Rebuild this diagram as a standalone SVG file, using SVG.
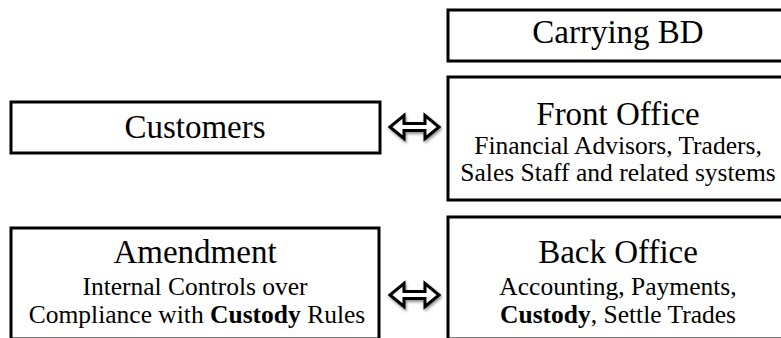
<svg xmlns="http://www.w3.org/2000/svg" width="781" height="338" viewBox="0 0 781 338">
<defs>
<style>
.box{fill:#fff;stroke:#000;stroke-width:3}
.t{font-family:"Liberation Serif","Times New Roman",serif;fill:#000;text-anchor:middle}
.h{font-size:33px}
.s{font-size:25.5px}
.b{font-weight:bold}
.arr{fill:#fff;stroke:#000;stroke-width:3;stroke-linejoin:miter;filter:url(#sh)}
</style>
<filter id="sh" x="-30%" y="-50%" width="160%" height="200%">
<feGaussianBlur in="SourceAlpha" stdDeviation="1.5"/>
<feOffset dx="1" dy="2" result="o"/>
<feComponentTransfer><feFuncA type="linear" slope="0.45"/></feComponentTransfer>
<feMerge><feMergeNode/><feMergeNode in="SourceGraphic"/></feMerge>
</filter>
<path id="dbl" d="M0,0 L14,-11.5 L14,-3.5 L35,-3.5 L35,-11.5 L49,0 L35,11.5 L35,3.5 L14,3.5 L14,11.5 Z"/>
</defs>
<rect width="781" height="338" fill="#fff"/>
<g id="carrying-bd">
<rect class="box" x="448" y="10" width="340" height="51"/>
<text class="t h" x="618" y="43">Carrying BD</text>
</g>
<g id="customers">
<rect class="box" x="11" y="102" width="369" height="51"/>
<text class="t h" x="195" y="138">Customers</text>
</g>
<g id="front-office">
<rect class="box" x="448" y="77" width="340" height="123"/>
<text class="t h" x="618" y="125">Front Office</text>
<text class="t s" x="618" y="154">Financial Advisors, Traders,</text>
<text class="t s" x="618" y="181">Sales Staff and related systems</text>
</g>
<g id="amendment">
<rect class="box" x="11" y="228" width="368" height="111"/>
<text class="t h" x="195" y="263">Amendment</text>
<text class="t s" x="195" y="295">Internal Controls over</text>
<text class="t s" x="197" y="323">Compliance with <tspan class="b">Custody</tspan> Rules</text>
</g>
<g id="back-office">
<rect class="box" x="448" y="217" width="340" height="122"/>
<text class="t h" x="618" y="263">Back Office</text>
<text class="t s" x="618" y="295">Accounting, Payments,</text>
<text class="t s" x="618" y="323"><tspan class="b">Custody</tspan>, Settle Trades</text>
</g>
<g id="connectors">
<use href="#dbl" class="arr" x="390" y="127"/>
<use href="#dbl" class="arr" x="390" y="295"/>
</g>
</svg>
